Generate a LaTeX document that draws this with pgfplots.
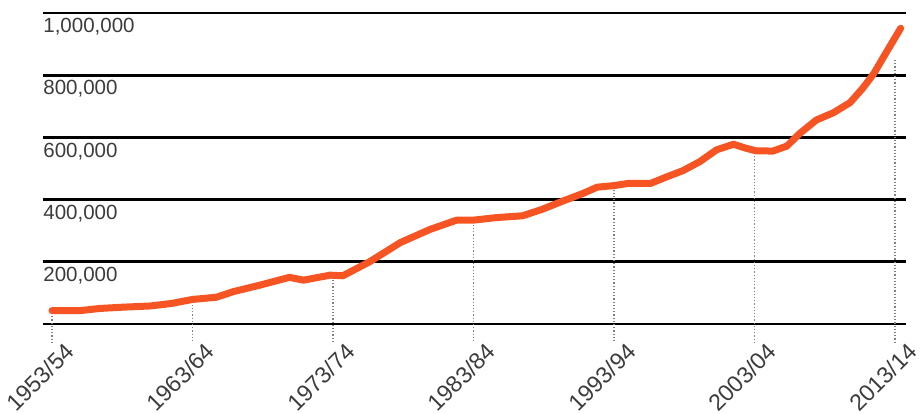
\documentclass[border=0pt]{standalone}
\usepackage{pgfplots}
\pgfplotsset{compat=1.18}
\usepackage{fontspec}
\setmainfont{Liberation Sans}
\definecolor{lineorange}{RGB}{246,84,34}
\definecolor{txt}{RGB}{60,60,60}
\begin{document}
\begin{tikzpicture}
\begin{axis}[
  name=ax,
  scale only axis, width=431.5pt, height=162pt,
  xmin=1952.36, xmax=2013.78, ymin=0, ymax=1041800,
  axis line style={draw=none},
  major tick length=0pt,
  xtick={1953,1963,1973,1983,1993,2003,2013},
  xticklabels={1953/54,1963/64,1973/74,1983/84,1993/94,2003/04,2013/14},
  ytick={0,200000,400000,600000,800000,1000000},
  yticklabels={{},{200,000},{400,000},{600,000},{800,000},{1,000,000}},
  ymajorgrids, major grid style={black, line width=1.4pt},
  xticklabel style={xshift=-6pt, yshift=-26.5pt, anchor=center, inner sep=0pt, rotate=45, font=\fontsize{11.6}{13}\selectfont, text=txt},
  yticklabel style={anchor=north west, inner sep=0pt, yshift=-2.5pt, font=\fontsize{10.25}{12}\selectfont, text=txt},
  clip=false,
  scaled y ticks=false,
]
\addplot[densely dotted, gray, line width=0.6pt] coordinates {(1953,25000) (1953,-58000)};
\addplot[densely dotted, gray, line width=0.6pt] coordinates {(1963,72000) (1963,-58000)};
\addplot[densely dotted, gray, line width=0.6pt] coordinates {(1973,162000) (1973,-58000)};
\addplot[densely dotted, gray, line width=0.6pt] coordinates {(1983,329000) (1983,-58000)};
\addplot[densely dotted, gray, line width=0.6pt] coordinates {(1993,432000) (1993,-58000)};
\addplot[densely dotted, gray, line width=0.6pt] coordinates {(2003,550000) (2003,-58000)};
\addplot[densely dotted, gray, line width=0.6pt] coordinates {(2013,849000) (2013,-58000)};
\addplot[lineorange, line width=3.5pt, line join=round, line cap=round] coordinates {
(1953,43000) (1955,43000) (1956.4,50000) (1958,54000) (1960,58000) (1961.5,66000)
(1963,79000) (1964.7,86000) (1965.9,104000) (1967.8,125000) (1969.9,150000)
(1970.9,141000) (1972.8,157000) (1973.7,155000) (1975.6,200000) (1977.8,262000)
(1979.9,304000) (1981.8,334000) (1983,334000) (1984.6,342000) (1986.5,348000)
(1987.9,369000) (1989.4,396000) (1990.8,420000) (1991.8,440000) (1993,445000)
(1994,452000) (1995.6,452000) (1996.8,474000) (1997.9,493000) (1999.1,522000)
(2000.3,560000) (2001.5,578000) (2002.4,565000) (2003.1,557000) (2004.3,556000)
(2005.3,572000) (2006.2,612000) (2007.4,656000) (2008.6,679000) (2009.8,712000)
(2010.7,758000) (2011.5,806000) (2012.2,860000) (2012.9,913000) (2013.4,951000)
};
\end{axis}
\pgfresetboundingbox
\path ([xshift=-21.5pt]ax.north west) rectangle ([xshift=7pt,yshift=-45pt]ax.south east);
\end{tikzpicture}
\end{document}
